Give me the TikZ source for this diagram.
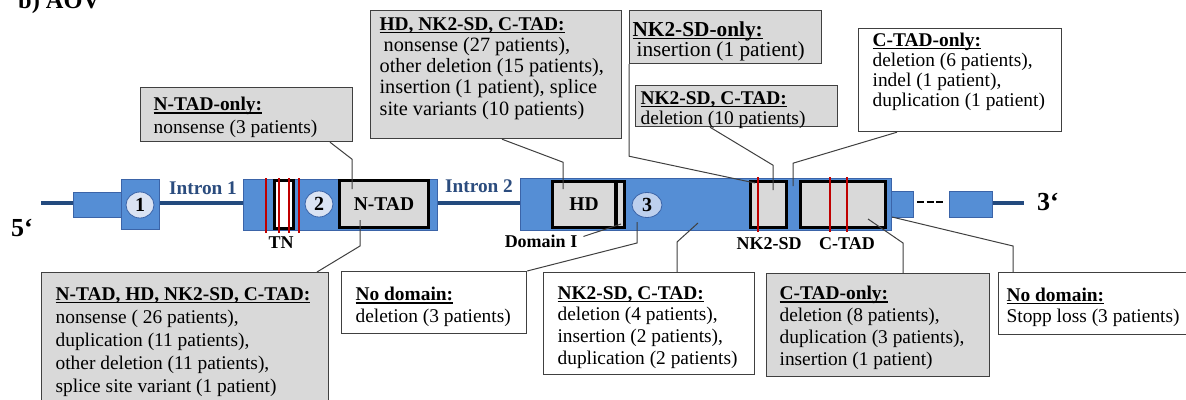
\documentclass[tikz,border=0pt]{standalone}
\usepackage{fontspec}
\setmainfont{Liberation Serif}
\usetikzlibrary{shapes.geometric}
\definecolor{exonblue}{HTML}{558ED5}
\definecolor{exonedge}{HTML}{3B64A8}
\definecolor{intronblue}{HTML}{234A7E}
\definecolor{labelblue}{HTML}{2B4C7E}
\definecolor{domgray}{HTML}{D9D9D9}
\definecolor{boxgray}{HTML}{D9D9D9}
\definecolor{mutred}{HTML}{C00000}
\definecolor{circfill}{HTML}{DAE3F3}
\definecolor{circthreefill}{HTML}{BDD0EE}
\definecolor{linegray}{HTML}{404040}
\newcommand{\boxttl}[1]{\leavevmode\setbox0=\hbox{\bfseries #1}\rlap{\rule[-3pt]{\wd0}{1.3pt}}\box0}
\newcommand{\infotext}[4]{\begin{minipage}[c][#2][t]{#1}\fontsize{19.4}{#3}\selectfont\raggedright #4\end{minipage}}
\tikzset{
  exonbox/.style={draw=exonedge, line width=0.8pt, fill=exonblue},
  dombox/.style={draw=black, line width=2.8pt, fill=domgray, inner sep=0pt, font=\bfseries\fontsize{19.5}{19.5}\selectfont},
  mutline/.style={draw=mutred, line width=2.6pt},
  intronline/.style={draw=intronblue, line width=3.6pt},
  connline/.style={draw=linegray, line width=1pt},
  infobox/.style={draw=linegray, line width=1.2pt, inner sep=0pt, anchor=north west},
  graybox/.style={infobox, fill=boxgray},
  whitebox/.style={infobox, fill=white},
  exnum/.style={ellipse, draw=exonedge, line width=0.8pt, fill=circfill, minimum width=28pt, minimum height=26pt, inner sep=0pt, font=\bfseries\fontsize{20}{20}\selectfont},
  domlabel/.style={inner sep=0pt, font=\bfseries\fontsize{18}{18}\selectfont},
  intronlabel/.style={inner sep=0pt, text=labelblue, font=\bfseries\fontsize{19.3}{19.3}\selectfont},
  endlabel/.style={inner sep=0pt, font=\bfseries\fontsize{26}{26}\selectfont},
}
\begin{document}
\begin{tikzpicture}[x=1pt,y=-1pt]
\useasboundingbox (0,0) rectangle (1186,399);
\clip (0,0) rectangle (1186,399);
\fill[white] (0,0) rectangle (1186,399);

\node[anchor=base west, inner sep=0pt, font=\bfseries\fontsize{24.4}{26}\selectfont] (title) at (18,8) {b) AOV};

% gene
\draw[intronline] (41,203) -- (891,203);
\draw[intronline] (992,203) -- (1024,203);
\path[exonbox] (73,192) rectangle (121,217);
\path[exonbox] (121,179) rectangle (159,229);
\path[exonbox] (243,179) rectangle (437,230);
\path[exonbox] (520,178) rectangle (891,230);
\path[exonbox] (891,191) rectangle (913,217);
\path[exonbox] (949,191) rectangle (992,217);
\draw[line width=2.2pt, dash pattern=on 7pt off 2.7pt] (917,202) -- (943,202);

% domains
\node[dombox, fill=white, minimum width=19.2pt, minimum height=48.2pt] (TN) at (284,204.5) {};
\node[dombox, minimum width=89.2pt, minimum height=47.2pt] (NTAD) at (384,204) {N-TAD};
\node[dombox, minimum width=63.2pt, minimum height=46.2pt] (HD) at (584,204.5) {HD};
\node[dombox, minimum width=8.2pt, minimum height=46.2pt] (DomI) at (620.5,204.5) {};
\node[dombox, minimum width=36.2pt, minimum height=46.2pt] (NKSD) at (768.5,204.5) {};
\node[dombox, minimum width=85.2pt, minimum height=46.2pt] (CTAD) at (843,204.5) {};

% mutation hot spots
\foreach \x in {266,279,289,299} \draw[mutline] (\x,178) -- (\x,233);
\draw[mutline] (758,177) -- (758,232);
\foreach \x in {830,847} \draw[mutline] (\x,177) -- (\x,232);

% exon numbers
\node[exnum] (c1) at (140,205) {1};
\node[exnum] (c2) at (319,204) {2};
\node[exnum, fill=circthreefill, minimum width=30pt, minimum height=25pt] (c3) at (647,205) {3};

% labels
\node[intronlabel] (in1) at (203,188) {Intron 1};
\node[intronlabel] (in2) at (479,186) {Intron 2};
\node[domlabel] (tnlab) at (281,243) {TN};
\node[domlabel] (domIlab) at (541,241) {Domain I};
\node[domlabel] (nklab) at (769,244) {NK2-SD};
\node[domlabel] (ctadlab) at (847,244) {C-TAD};
\node[endlabel] (five) at (22,228) {5‘};
\node[endlabel] (three) at (1048,202) {3‘};

% connector end points
\coordinate (pNTADtop) at (352,189);
\coordinate (pHD) at (563,189);
\coordinate (pNKin) at (755,183);
\coordinate (pNK) at (773,190);
\coordinate (pGap) at (793,186);
\coordinate (pNTADbot) at (360,220);
\coordinate (pCthree) at (637,222);
\coordinate (pDomI) at (621,224);
\coordinate (pExthree) at (698,223);
\coordinate (pCTAD) at (868,219);
\coordinate (pEnd) at (892,217);

% info boxes
\node[graybox, minimum width=212pt, minimum height=54pt] (ntadonly) at (140,87)
  {\infotext{186pt}{34.8pt}{23pt}{\boxttl{N-TAD-only:}\\ nonsense (3 patients)}};
\node[graybox, minimum width=251pt, minimum height=128pt] (hdbox) at (370,10)
  {\infotext{233pt}{114.8pt}{21.3pt}{\boxttl{HD, NK2-SD, C-TAD:}\\ \fontsize{20.3}{21.3}\selectfont\hspace*{4pt}nonsense (27 patients),\\ other deletion (15 patients),\\ insertion (1 patient), splice\\ site variants (10 patients)}};
\node[graybox, minimum width=192pt, minimum height=53pt] (nkonly) at (629,10)
  {\infotext{186pt}{31pt}{20pt}{\fontsize{21.3}{20}\selectfont\boxttl{NK2-SD-only:}\\ \hspace*{4pt}insertion (1 patient)}};
\node[graybox, minimum width=202pt, minimum height=41pt] (nkctadtop) at (635,85)
  {\infotext{192pt}{29.8pt}{20pt}{\boxttl{NK2-SD, C-TAD:}\\ deletion (10 patients)}};
\node[whitebox, minimum width=203pt, minimum height=103pt] (ctadtop) at (858,28)
  {\infotext{175pt}{95pt}{20.3pt}{\boxttl{C-TAD-only:}\\ deletion (6 patients),\\ indel (1 patient),\\ duplication (1 patient)}};
\node[graybox, minimum width=287pt, minimum height=140pt] (botleft) at (41,272)
  {\infotext{259pt}{110.8pt}{23pt}{\boxttl{N-TAD, HD, NK2-SD, C-TAD:}\\ nonsense ( 26 patients),\\ duplication (11 patients),\\ other deletion (11 patients),\\ splice site variant (1 patient)}};
\node[whitebox, minimum width=185pt, minimum height=62pt] (nodomain) at (341,271)
  {\infotext{157pt}{30.8pt}{22pt}{\boxttl{No domain:}\\ deletion (3 patients)}};
\node[whitebox, minimum width=211pt, minimum height=102pt] (nkctadbot) at (543,272)
  {\infotext{183pt}{74.8pt}{21.7pt}{\boxttl{NK2-SD, C-TAD:}\\ deletion (4 patients),\\ insertion (2 patients),\\ duplication (2 patients)}};
\node[graybox, minimum width=223pt, minimum height=103pt] (ctadbot) at (766,273)
  {\infotext{197pt}{77.8pt}{22pt}{\boxttl{C-TAD-only:}\\ deletion (8 patients),\\ duplication (3 patients),\\ insertion (1 patient)}};
\node[whitebox, minimum width=192pt, minimum height=62pt] (nodomright) at (998,272)
  {\infotext{176pt}{32pt}{21pt}{\boxttl{No domain:}\\ Stopp loss (3 patients)}};

% connectors
\draw[connline] ([xshift=190pt]ntadonly.south west) -- ++(22,17) -- (pNTADtop);
\draw[connline] ([xshift=132pt]hdbox.south west) -- ++(61,23) -- (pHD);
\draw[connline] (nkonly.south west) -- ++(0,92) -- (pNKin);
\draw[connline] ([xshift=75pt]nkctadtop.south west) -- ++(63,38) -- (pNK);
\draw[connline] ([xshift=39pt]ctadtop.south west) -- ++(-104,31) -- (pGap);
\draw[connline] (pNTADbot) -- ++(0,26) -- ([xshift=276pt]botleft.north west);
\draw[connline] (pCthree) -- ++(0,21) -- (nodomain.north east);
\draw[connline] ([xshift=6pt,yshift=-2pt]domIlab.north east) -- (pDomI);
\draw[connline] (pExthree) -- ++(-21,19) -- ([xshift=134pt]nkctadbot.north west);
\draw[connline] (pCTAD) -- ++(35,24) -- ([xshift=137pt]ctadbot.north west);
\draw[connline] (pEnd) -- ++(121,29) -- ([xshift=15pt]nodomright.north west);
\end{tikzpicture}
\end{document}
